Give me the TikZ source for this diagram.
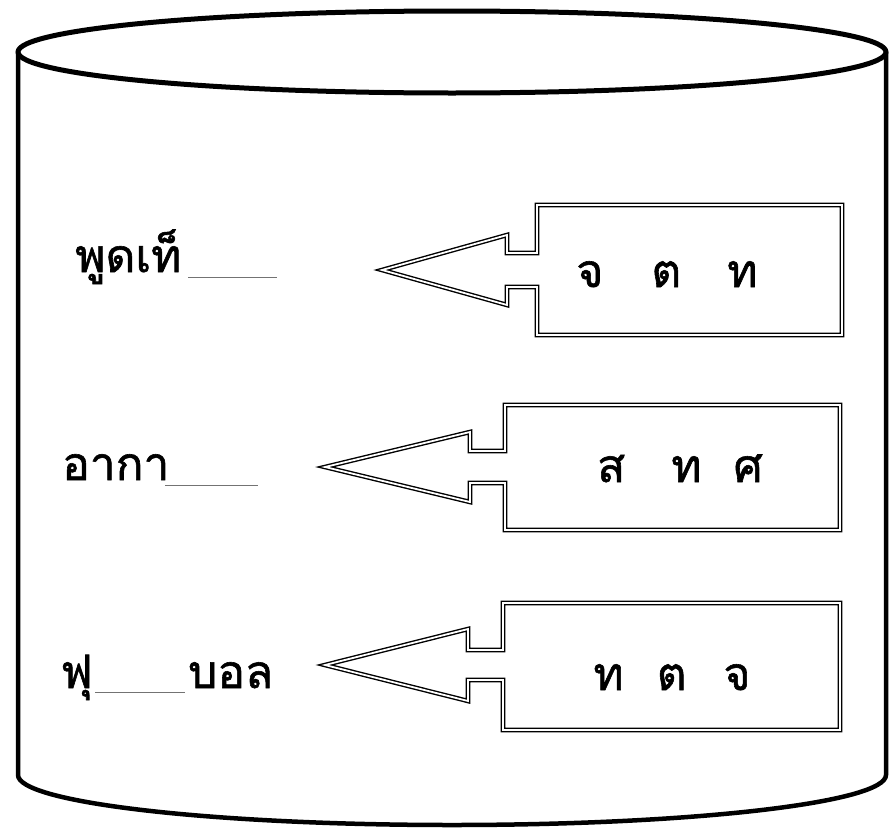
\documentclass[tikz,border=0pt]{standalone}
\usepackage{fontspec}
\newfontfamily\thaifont[Script=Thai, FakeBold=1.3]{Loma}
\newcommand{\calloutshape}[9]{%
  \draw[callout] (#1,#2) -- (#3,#2-#4) -- (#3,#2-#5) -- (#6,#2-#5) -- (#6,#8)
    -- (#7,#8) -- (#7,#9) -- (#6,#9) -- (#6,#2+#5) -- (#3,#2+#5) -- (#3,#2+#4) -- cycle;}
\begin{document}
\begin{tikzpicture}[x=1pt,y=-1pt,
  drum/.style={draw=black, line width=5pt, line join=round, line cap=round},
  callout/.style={draw=black, line width=1.4pt, double=white, double distance=1.8pt, line join=miter},
  word/.style={font=\thaifont\fontsize{46}{52}\selectfont, inner sep=0pt},
  blank/.style={draw=black!55, line width=0.9pt}]
\useasboundingbox[fill=white] (0,0) rectangle (891,830);
% drum
\draw[drum] (452,52) ellipse [x radius=434, y radius=41];
\draw[drum, line width=4.5pt] (18,52) -- (18,775) arc[start angle=180, end angle=0, x radius=434, y radius=50] -- (886,52);
% callouts
\calloutshape{382}{270}{507}{35}{17}{537}{842}{205}{335}
\calloutshape{325}{467}{470}{35}{16}{505}{840}{405}{530}
\calloutshape{325}{665}{468}{36}{15}{503}{840}{603}{730}
% left words
\node[word, anchor=base west] (w1) at (75,272) {พูดเท็};
\draw[blank] (188,277) -- (277,277);
\node[word, anchor=base west] (w2) at (62,480) {อากา};
\draw[blank] (165,485) -- (258,485);
\node[word, anchor=base west] (w3a) at (60,688) {ฟุ};
\draw[blank] (95,692) -- (185,692);
\node[word, anchor=base west] (w3b) at (188,688) {บอล};
% letters in boxes
\node[word, anchor=base] (l1) at (667,287) {จ\hspace{48pt}ต\hspace{46pt}ท};
\node[word, anchor=base] (l2) at (680,482) {ส\hspace{46pt}ท\hspace{32pt}ศ};
\node[word, anchor=base] (l3) at (672,690) {ท\hspace{33pt}ต\hspace{37pt}จ};
\end{tikzpicture}
\end{document}
